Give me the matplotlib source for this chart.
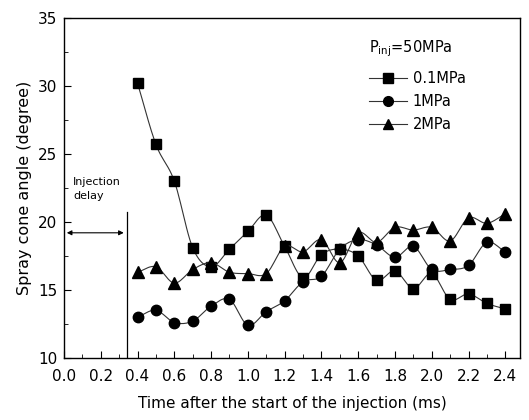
import numpy as np
import matplotlib
matplotlib.use("Agg")
import matplotlib.pyplot as plt
from matplotlib.ticker import MultipleLocator, FormatStrFormatter

time_ms = [0.4, 0.5, 0.6, 0.7, 0.8, 0.9, 1.0, 1.1, 1.2, 1.3, 1.4, 1.5, 1.6,
           1.7, 1.8, 1.9, 2.0, 2.1, 2.2, 2.3, 2.4]
angle_01 = [30.2, 25.7, 23.0, 18.1, 16.7, 18.0, 19.3, 20.5, 18.2, 15.9, 17.6,
            18.0, 17.5, 15.7, 16.4, 15.1, 16.2, 14.3, 14.7, 14.0, 13.6]
angle_1 = [13.0, 13.5, 12.6, 12.7, 13.8, 14.3, 12.4, 13.4, 14.2, 15.6, 16.0,
           18.0, 18.7, 18.3, 17.4, 18.2, 16.5, 16.5, 16.8, 18.5, 17.8]
angle_2 = [16.3, 16.7, 15.5, 16.5, 17.0, 16.3, 16.2, 16.2, 18.2, 17.8, 18.7,
           17.0, 19.2, 18.5, 19.6, 19.4, 19.6, 18.6, 20.3, 19.9, 20.6]
labels = ["0.1MPa", "1MPa", "2MPa"]
markers = ["s", "o", "^"]
delay_ms = 0.34


def smooth(x, y, n=12):
    x = np.asarray(x, float)
    y = np.asarray(y, float)
    px = np.concatenate([[2 * x[0] - x[1]], x, [2 * x[-1] - x[-2]]])
    py = np.concatenate([[2 * y[0] - y[1]], y, [2 * y[-1] - y[-2]]])
    xs, ys = [], []
    t = np.linspace(0, 1, n, endpoint=False)
    for i in range(1, len(px) - 2):
        for arr, out in ((px, xs), (py, ys)):
            p0, p1, p2, p3 = arr[i - 1], arr[i], arr[i + 1], arr[i + 2]
            out.extend(0.5 * ((2 * p1) + (-p0 + p2) * t
                              + (2 * p0 - 5 * p1 + 4 * p2 - p3) * t ** 2
                              + (-p0 + 3 * p1 - 3 * p2 + p3) * t ** 3))
    xs.append(x[-1])
    ys.append(y[-1])
    return xs, ys


plt.rcParams['font.family'] = ['DejaVu Sans']
fig = plt.figure(figsize=(5.29, 4.2), dpi=100)
ax = fig.add_axes([0.121, 0.148, 0.862, 0.809])

handles = []
for vals, lab, mk in zip([angle_01, angle_1, angle_2], labels, markers):
    sx, sy = smooth(time_ms, vals)
    ax.plot(sx, sy, color='#333333', lw=0.8)
    ax.plot(time_ms, vals, linestyle='none', marker=mk, color='black',
            markersize=7.5 if mk != '^' else 8.5)
    h, = ax.plot([], [], color='#333333', lw=0.8, marker=mk,
                 markerfacecolor='black', markeredgecolor='black',
                 markersize=7)
    handles.append(h)

ax.set_xlim(0, 2.48)
ax.set_ylim(10, 35)
ax.xaxis.set_major_locator(MultipleLocator(0.2))
ax.xaxis.set_minor_locator(MultipleLocator(0.1))
ax.yaxis.set_major_locator(MultipleLocator(5))
ax.yaxis.set_minor_locator(MultipleLocator(2.5))
ax.xaxis.set_major_formatter(FormatStrFormatter('%.1f'))
ax.tick_params(which='both', direction='in', top=False, right=False,
               labelsize=11)
ax.tick_params(which='major', length=5)
ax.tick_params(which='minor', length=3)
ax.tick_params(axis='x', pad=8)
ax.tick_params(axis='y', pad=5)
for s in ax.spines.values():
    s.set_linewidth(1.0)

ax.set_xlabel("Time after the start of the injection (ms)", fontsize=11, labelpad=9)
ax.set_ylabel("Spray cone angle (degree)", fontsize=11.5, labelpad=4)

# injection delay annotation
ax.plot([delay_ms, delay_ms], [10, 20.7], color='black', lw=0.9)
ax.annotate("", xy=(0.0, 19.2), xytext=(delay_ms, 19.2),
            arrowprops=dict(arrowstyle='<|-|>', color='black', lw=0.8,
                            mutation_scale=7))
ax.text(0.05, 22.4, "Injection\ndelay", fontsize=8, va='center', ha='left',
        linespacing=1.5)

leg = ax.legend(handles, labels, loc='upper left',
                bbox_to_anchor=(0.64, 0.98), frameon=False, fontsize=10.5,
                title="P$_{\\mathregular{inj}}$=50MPa", title_fontsize=10.5,
                handlelength=2.6, handletextpad=0.4, labelspacing=0.55)
leg._legend_box.align = "left"
leg._legend_box.sep = 9

fig.savefig("out.png", dpi=100)
